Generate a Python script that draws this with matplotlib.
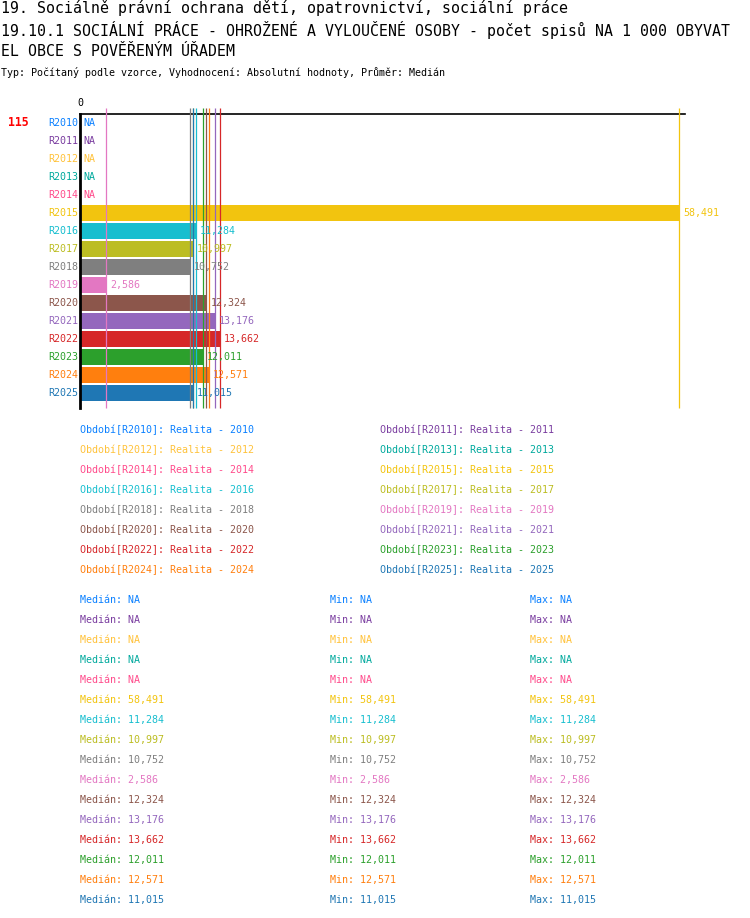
import matplotlib
matplotlib.use("Agg")
import matplotlib.pyplot as plt

plt.rcParams['font.family'] = ['DejaVu Sans Mono']

periods = ["R2010", "R2011", "R2012", "R2013", "R2014", "R2015", "R2016", "R2017",
           "R2018", "R2019", "R2020", "R2021", "R2022", "R2023", "R2024", "R2025"]
values = [None, None, None, None, None, 58.491, 11.284, 10.997,
          10.752, 2.586, 12.324, 13.176, 13.662, 12.011, 12.571, 11.015]
colors = ["#0a80ff", "#7a3da0", "#ffc23a", "#00a99d", "#ff4b8b", "#f2c40f", "#17becf", "#bcbd22",
          "#7f7f7f", "#e377c2", "#8c564b", "#9467bd", "#d62728", "#2ca02c", "#ff7f0e", "#1f77b4"]
legend_labels = ["Období[%s]: Realita - %s" % (p, p[1:]) for p in periods]

title1 = "19. Sociálně právní ochrana dětí, opatrovnictví, sociální práce"
title2 = "19.10.1 SOCIÁLNÍ PRÁCE - OHROŽENÉ A VYLOUČENÉ OSOBY - počet spisů NA 1 000 OBYVAT"
title3 = "EL OBCE S POVĚŘENÝM ÚŘADEM"
subtitle = "Typ: Počítaný podle vzorce, Vyhodnocení: Absolutní hodnoty, Průměr: Medián"
count_label = "115"

W, H = 750, 918


def fmt(v):
    return "NA" if v is None else ("%.3f" % v).replace(".", ",")


fig = plt.figure(figsize=(W / 100, H / 100), dpi=100)

# titles
fig.text(1 / W, 1 - 8 / H, title1, fontsize=10.7, va="center", ha="left")
fig.text(1 / W, 1 - 30 / H, title2, fontsize=10.7, va="center", ha="left")
fig.text(1 / W, 1 - 52 / H, title3, fontsize=10.7, va="center", ha="left")
fig.text(1 / W, 1 - 73 / H, subtitle, fontsize=7.2, va="center", ha="left")

# bar chart area
x0, x1, ytop, ybot = 80, 685, 114, 408
ax = fig.add_axes([x0 / W, 1 - ybot / H, (x1 - x0) / W, (ybot - ytop) / H])
xmax = 58.491 * (x1 - x0) / (679 - x0)
ax.set_xlim(0, xmax)
row_top = -0.5
row_bot = (ybot - 123) / 18
ax.set_ylim(row_bot, row_top)

for i, (p, v, c) in enumerate(zip(periods, values, colors)):
    ax.text(-0.2, i, p, color=c, fontsize=7.2, ha="right", va="center")
    if v is None:
        ax.text(0.35, i, "NA", color=c, fontsize=7.2, ha="left", va="center")
    else:
        ax.barh(i, v, height=0.88, color=c, zorder=2)
        ax.text(v + 0.4, i, fmt(v), color=c, fontsize=7.2, ha="left", va="center", zorder=4)
        ax.vlines(v, row_top - 0.33, row_bot, color=c, linewidth=0.9, zorder=3, clip_on=False)

ax.text(-7.0, 0, count_label, color="red", fontsize=8.3, fontweight="bold", ha="left", va="center")
ax.text(0, row_top - 0.35, "0", fontsize=7.2, ha="center", va="bottom")

for s in ["right", "bottom"]:
    ax.spines[s].set_visible(False)
ax.spines["top"].set_linewidth(1.2)
ax.spines["left"].set_linewidth(2)
ax.set_xticks([])
ax.set_yticks([])

# legend
for i, (lab, c) in enumerate(zip(legend_labels, colors)):
    col = i % 2
    row = i // 2
    fig.text((80 + 300 * col) / W, 1 - (430 + 20 * row) / H, lab, color=c,
             fontsize=7.2, ha="left", va="center")

# stats
for i, (v, c) in enumerate(zip(values, colors)):
    y = 1 - (600 + 20 * i) / H
    fig.text(80 / W, y, "Medián: " + fmt(v), color=c, fontsize=7.2, ha="left", va="center")
    fig.text(330 / W, y, "Min: " + fmt(v), color=c, fontsize=7.2, ha="left", va="center")
    fig.text(530 / W, y, "Max: " + fmt(v), color=c, fontsize=7.2, ha="left", va="center")

fig.savefig("out.png", dpi=100)
